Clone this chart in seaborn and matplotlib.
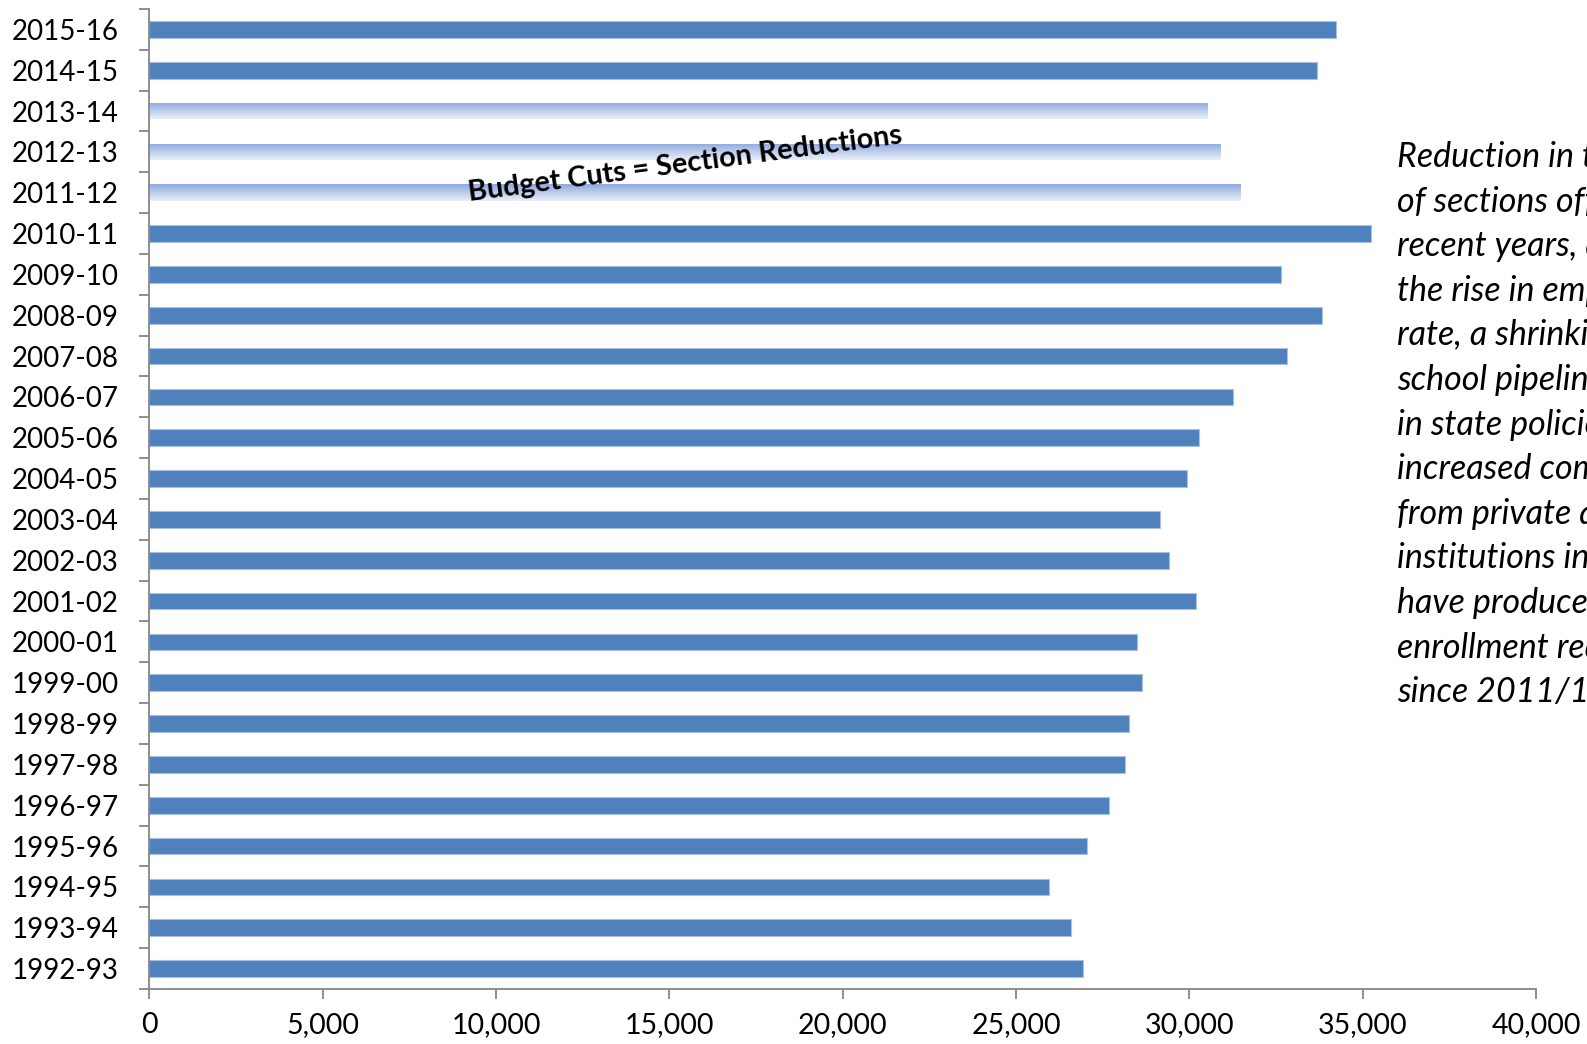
import numpy as np
import pandas as pd
import matplotlib
matplotlib.use("Agg")
import matplotlib.pyplot as plt
import seaborn as sns
from matplotlib.colors import LinearSegmentedColormap
from matplotlib.ticker import FuncFormatter, FixedLocator

# Academic years (chronological) and number of course sections offered
years = ["1992-93", "1993-94", "1994-95", "1995-96", "1996-97", "1997-98",
         "1998-99", "1999-00", "2000-01", "2001-02", "2002-03", "2003-04",
         "2004-05", "2005-06", "2006-07", "2007-08", "2008-09", "2009-10",
         "2010-11", "2011-12", "2012-13", "2013-14", "2014-15", "2015-16"]
sections = [26920, 26590, 25940, 27050, 27690, 28150,
            28270, 28620, 28490, 30200, 29400, 29160,
            29930, 30270, 31260, 32830, 33830, 32640,
            35250, 31490, 30910, 30530, 33690, 34230]
# Years affected by budget cuts
cut_years = ["2011-12", "2012-13", "2013-14"]

x_ticks = [0, 5000, 10000, 15000, 20000, 25000, 30000, 35000, 40000]

annotation = "Budget Cuts = Section Reductions"
side_note = ["Reduction in the number",
             "of sections offered in",
             "recent years, along with",
             "the rise in employment",
             "rate, a shrinking high",
             "school pipeline, changes",
             "in state policies and",
             "increased competition",
             "from private and online",
             "institutions in the area",
             "have produced an",
             "enrollment reduction",
             "since 2011/12."]

sns.set_theme(style="white")
plt.rcParams["font.family"] = ["Lato", "DejaVu Sans"]

bar_color = "#4f81bd"
spine_color = "#868686"
grad_top, grad_bottom = "#8eaadd", "#eaeff9"

df = pd.DataFrame({"year": years, "sections": sections})
order = years[::-1]

fig = plt.figure(figsize=(15.87, 10.44), dpi=100)
ax = fig.add_axes([0.0941, 0.0527, 0.8738, 0.9387])

sns.barplot(data=df, y="year", x="sections", order=order, orient="h",
            color=bar_color, saturation=1, width=0.41,
            edgecolor="#a9c0e0", linewidth=0.8, ax=ax)

# Gradient fill for the budget-cut years
cmap = LinearSegmentedColormap.from_list("cut", [grad_top, grad_bottom])
grad = np.linspace(0, 1, 64).reshape(-1, 1)
for patch, yr in zip(ax.patches, order):
    if yr in cut_years:
        x0, y0 = patch.get_x(), patch.get_y()
        w, h = patch.get_width(), patch.get_height()
        patch.set_facecolor("none")
        patch.set_edgecolor("none")
        im = ax.imshow(grad, cmap=cmap, aspect="auto", origin="upper",
                       extent=(x0, x0 + w, y0 + h, y0), zorder=patch.get_zorder(),
                       interpolation="bilinear")
        im.set_clip_path(patch)

ax.set_xlim(0, 40000)
ax.set_ylim(len(years) - 0.5, -0.5)
ax.set_xlabel("")
ax.set_ylabel("")

ax.xaxis.set_major_locator(FixedLocator(x_ticks))
ax.xaxis.set_major_formatter(FuncFormatter(lambda v, p: f"{int(v):,}"))
ax.yaxis.set_minor_locator(FixedLocator(np.arange(-0.5, len(years), 1.0)))

for side in ["top", "right"]:
    ax.spines[side].set_visible(False)
for side in ["left", "bottom"]:
    ax.spines[side].set_color(spine_color)
    ax.spines[side].set_linewidth(1.3)

ax.tick_params(axis="x", which="major", direction="out", length=7.5, width=1.3,
               color=spine_color, labelsize=20.5, pad=9, labelcolor="black", bottom=True)
ax.tick_params(axis="y", which="major", length=0, labelsize=20, pad=22, labelcolor="black")
ax.tick_params(axis="y", which="minor", direction="out", length=7.5, width=1.3,
               color=spine_color, left=True)

ax.text(15450, 3.3, annotation, rotation=7.6, rotation_mode="anchor",
        ha="center", va="center", fontsize=20.8, fontweight="bold", color="black")

line_step = 44.6 / 1044
y0 = 1 - 167 / 1044
for i, line in enumerate(side_note):
    fig.text(1397 / 1587, y0 - i * line_step, line, fontsize=24.5,
             fontstyle="italic", va="baseline", ha="left", color="black")

fig.savefig("out.png", dpi=100)
